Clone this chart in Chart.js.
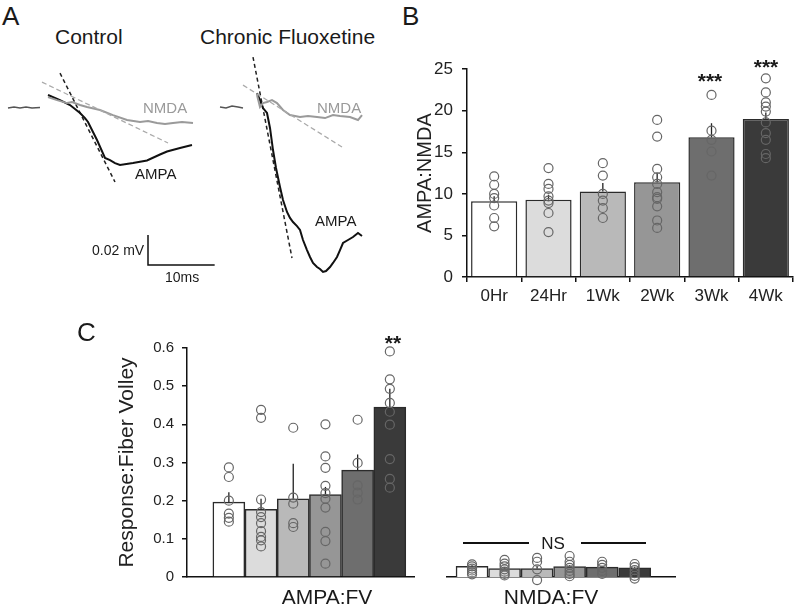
<!DOCTYPE html>
<html>
<head>
<meta charset="utf-8">
<script src="https://cdn.jsdelivr.net/npm/chart.js@4.4.1/dist/chart.umd.min.js"></script>
<style>
  html, body { margin: 0; padding: 0; background: #fff; }
  body { width: 800px; height: 611px; position: relative; overflow: hidden;
         font-family: "Liberation Sans", Arial, sans-serif; color: #1a1a1a; }
  .box { position: absolute; }
  .t { position: absolute; line-height: 1; white-space: nowrap; }
  .c { text-align: center; }
  .rule { position: absolute; height: 1.5px; background: #111; }
</style>
</head>
<body>
<div class="box" style="left:0;top:50px;width:230px;height:250px"><canvas id="ctrlCanvas"></canvas></div>
<div class="box" style="left:200px;top:50px;width:200px;height:250px"><canvas id="fluoxCanvas"></canvas></div>
<div class="box" style="left:400px;top:50px;width:400px;height:260px"><canvas id="ratioCanvas"></canvas></div>
<div class="box" style="left:100px;top:330px;width:320px;height:281px"><canvas id="ampaFvCanvas"></canvas></div>
<div class="box" style="left:430px;top:330px;width:260px;height:281px"><canvas id="nmdaFvCanvas"></canvas></div>

<div class="t" style="left:2px;top:3px;font-size:26px">A</div>
<div class="t" style="left:55px;top:26px;font-size:21px">Control</div>
<div class="t" style="left:200px;top:26px;font-size:21px">Chronic Fluoxetine</div>
<div class="t" style="left:143px;top:100px;font-size:15px;color:#9a9a9a">NMDA</div>
<div class="t" style="left:135px;top:166px;font-size:15px">AMPA</div>
<div class="t" style="left:317px;top:100px;font-size:15px;color:#9a9a9a">NMDA</div>
<div class="t" style="left:315px;top:213px;font-size:15px">AMPA</div>
<div class="t" style="left:92px;top:243px;font-size:14px">0.02 mV</div>
<div class="t" style="left:165px;top:270px;font-size:14px">10ms</div>

<div class="t" style="left:402px;top:3px;font-size:26px">B</div>
<div class="t c" style="left:680px;width:60px;top:70px;font-size:21px;font-weight:bold">***</div>
<div class="t c" style="left:736px;width:60px;top:56px;font-size:21px;font-weight:bold">***</div>

<div class="t" style="left:77px;top:319px;font-size:26px">C</div>
<div class="t c" style="left:363px;width:60px;top:332px;font-size:21px;font-weight:bold">**</div>
<div class="t c" style="left:247px;width:160px;top:586px;font-size:21px">AMPA:FV</div>
<div class="t c" style="left:471px;width:160px;top:586px;font-size:21px">NMDA:FV</div>
<div class="t c" style="left:523px;width:60px;top:535px;font-size:17px">NS</div>
<div class="rule" style="left:463px;top:542px;width:66px"></div>
<div class="rule" style="left:581px;top:542px;width:65px"></div>

<script>
// ---- panel A traces: time in ms, response in mV
const ctrlBaseT = [1.2, 2.1, 3.0, 3.9, 4.8, 6.0];
const ctrlBaseV = [0, 0.0007, 0, 0.0007, 0, 0.0003];
const ctrlAmpaT = [7.2, 9.0, 10.5, 12.0, 12.75, 13.2, 14.55, 15.75, 16.5, 17.25, 18.0, 19.95, 22.05, 24.0, 25.05, 27.0, 28.8];
const ctrlAmpaV = [0.0087, 0.0053, 0.002, -0.0033, -0.0067, -0.0093, -0.0213, -0.0333, -0.0347, -0.0367, -0.038, -0.0367, -0.035, -0.031, -0.029, -0.0267, -0.0247];
const ctrlNmdaT = [7.2, 8.55, 10.05, 10.8, 12.0, 13.05, 15.0, 16.95, 19.05, 21.0, 22.2, 23.55, 24.75, 25.95, 27.3, 28.95];
const ctrlNmdaV = [0.0073, 0.0053, 0.0033, 0.004, 0.002, 0.0007, -0.0013, -0.0047, -0.008, -0.0093, -0.0087, -0.01, -0.0107, -0.01, -0.0093, -0.01];
const ctrlAmpaSlopeT = [9.0, 17.25];
const ctrlAmpaSlopeV = [0.0233, -0.0493];
const ctrlNmdaSlopeT = [6.3, 25.2];
const ctrlNmdaSlopeV = [0.0173, -0.0233];
const scaleBarT = [22.2, 22.2, 32.2];   // 10 ms
const scaleBarV = [-0.0847, -0.1047, -0.1047]; // 0.02 mV

const fluoxBaseT = [3.0, 3.9, 4.8, 5.7, 6.45];
const fluoxBaseV = [0.0007, 0, 0.0013, 0.0007, 0];
const fluoxAmpaT = [8.55, 9.0, 9.45, 10.05, 10.5, 10.95, 11.4, 12.0, 12.45, 13.05, 13.5, 13.95, 14.55, 15.0, 15.45, 16.05, 16.5, 16.95, 17.55, 18.0, 18.45, 18.9, 19.5, 19.95, 20.55, 21.0, 21.45, 22.2, 22.95, 23.7, 24.3];
const fluoxAmpaV = [0.01, 0.0053, 0, -0.0033, -0.0133, -0.028, -0.04, -0.0527, -0.0613, -0.0693, -0.0733, -0.076, -0.0787, -0.0813, -0.088, -0.0947, -0.0993, -0.1033, -0.106, -0.1073, -0.1093, -0.1087, -0.106, -0.1033, -0.0993, -0.0947, -0.09, -0.088, -0.086, -0.0833, -0.0853];
const fluoxNmdaT = [8.55, 9.0, 9.45, 10.05, 10.8, 11.55, 12.45, 13.5, 15.0, 16.2, 17.55, 18.75, 19.95, 21.0, 22.5, 23.7, 24.3];
const fluoxNmdaV = [0.0087, 0.0007, 0.0033, 0.004, 0.0053, 0.0033, -0.0013, -0.0047, -0.006, -0.0053, -0.006, -0.0067, -0.0047, -0.0053, -0.006, -0.008, -0.0047];
const fluoxAmpaSlopeT = [7.95, 13.8];
const fluoxAmpaSlopeV = [0.034, -0.1];
const fluoxNmdaSlopeT = [6.45, 21.3];
const fluoxNmdaSlopeV = [0.0153, -0.026];

// ---- panel B: AMPA:NMDA ratio
const bLabels = ['0Hr', '24Hr', '1Wk', '2Wk', '3Wk', '4Wk'];
const bMeans = [9.1, 9.3, 10.3, 11.4, 16.8, 19.0];
const bSem = [0.6, 0.6, 1.0, 1.1, 1.7, 0.8];
const b0Hr = [12.1, 11.1, 10.0, 9.5, 8.6, 7.1, 6.1];
const b24Hr = [13.1, 11.2, 10.6, 9.7, 9.2, 8.9, 7.7, 5.4];
const b1Wk = [13.7, 12.2, 10.0, 9.2, 8.3, 7.1];
const b2Wk = [18.9, 16.9, 13.0, 12.0, 11.2, 10.2, 9.6, 9.4, 8.5, 6.8, 5.9];
const b3Wk = [21.9, 17.6, 16.5, 15.1, 12.2];
const b4Wk = [23.9, 22.2, 21.0, 20.5, 19.9, 18.6, 17.3, 16.5, 14.8, 14.3];

// ---- panel C: response / fiber volley
const ampaFvMeans = [0.196, 0.177, 0.205, 0.216, 0.28, 0.445];
const ampaFvSem = [0.026, 0.028, 0.092, 0.02, 0.041, 0.048];
const ampaFv0Hr = [0.287, 0.262, 0.2, 0.166, 0.155, 0.145];
const ampaFv24Hr = [0.438, 0.417, 0.203, 0.17, 0.157, 0.141, 0.12, 0.105, 0.096, 0.08];
const ampaFv1Wk = [0.391, 0.208, 0.192, 0.141, 0.131];
const ampaFv2Wk = [0.4, 0.316, 0.286, 0.239, 0.22, 0.205, 0.182, 0.118, 0.094, 0.035];
const ampaFv3Wk = [0.412, 0.299, 0.24, 0.221, 0.203];
const ampaFv4Wk = [0.591, 0.518, 0.493, 0.456, 0.433, 0.399, 0.309, 0.257, 0.234];

const nmdaFvMeans = [0.028, 0.022, 0.022, 0.027, 0.026, 0.024];
const nmdaFvSem = [0.003, 0.004, 0.006, 0.004, 0.003, 0.003];
const nmdaFv0Hr = [0.033, 0.028, 0.022, 0.017, 0.012, 0.007];
const nmdaFv24Hr = [0.045, 0.035, 0.028, 0.02, 0.014, 0.008, 0.004];
const nmdaFv1Wk = [0.05, 0.04, 0.02, -0.008];
const nmdaFv2Wk = [0.055, 0.04, 0.032, 0.024, 0.016, 0.008, 0.002];
const nmdaFv3Wk = [0.04, 0.032, 0.024, 0.016, 0.008];
const nmdaFv4Wk = [0.034, 0.026, 0.018, 0.01, 0.003, -0.004];

const barFills = ['#ffffff', '#dcdcdc', '#b9b9b9', '#969696', '#6e6e6e', '#3a3a3a'];
const ink = '#111';

Chart.defaults.font.family = '"Liberation Sans", Arial, sans-serif';
Chart.defaults.color = '#222';

const pts = (t, v) => t.map((x, i) => ({ x, y: v[i] }));

// upward SEM whisker on every bar of dataset 0
const errorBars = {
    id: 'errorBars',
    afterDatasetDraw(chart, args) {
        if (args.index !== 0) return;
        const ds = chart.data.datasets[0];
        const y = chart.scales.y;
        const ctx = chart.ctx;
        ctx.save();
        ctx.strokeStyle = '#222';
        ctx.lineWidth = 1.3;
        args.meta.data.forEach((bar, i) => {
            const d = ds.data[i];
            const m = typeof d === 'object' ? d.y : d;
            ctx.beginPath();
            ctx.moveTo(bar.x, bar.y);
            ctx.lineTo(bar.x, y.getPixelForValue(m + ds.sem[i]));
            ctx.stroke();
        });
        ctx.restore();
    }
};

function trace(t, v, color, width, dash) {
    return { data: pts(t, v), borderColor: color, borderWidth: width, borderDash: dash || [], fill: false, pointRadius: 0, tension: 0 };
}

function traceChart(id, xMax, sets) {
    new Chart(document.getElementById(id), {
        type: 'line',
        data: { datasets: sets },
        options: {
            responsive: true,
            maintainAspectRatio: false,
            animation: false,
            events: [],
            layout: { padding: 0 },
            plugins: { legend: { display: false }, tooltip: { enabled: false } },
            scales: {
                x: { type: 'linear', display: false, min: 0, max: xMax },
                y: { type: 'linear', display: false, min: -0.128, max: 0.0387 }
            }
        }
    });
}

traceChart('ctrlCanvas', 34.5, [
    trace(ctrlBaseT, ctrlBaseV, '#555', 1.5),
    trace(ctrlNmdaSlopeT, ctrlNmdaSlopeV, '#aaa', 1.3, [5, 3]),
    trace(ctrlNmdaT, ctrlNmdaV, '#9a9a9a', 2),
    trace(ctrlAmpaT, ctrlAmpaV, '#111', 2),
    trace(ctrlAmpaSlopeT, ctrlAmpaSlopeV, '#222', 1.5, [4, 3]),
    trace(scaleBarT, scaleBarV, '#111', 1.5)
]);

traceChart('fluoxCanvas', 30, [
    trace(fluoxBaseT, fluoxBaseV, '#555', 1.5),
    trace(fluoxNmdaSlopeT, fluoxNmdaSlopeV, '#aaa', 1.3, [5, 3]),
    trace(fluoxNmdaT, fluoxNmdaV, '#9a9a9a', 2),
    trace(fluoxAmpaT, fluoxAmpaV, '#111', 2),
    trace(fluoxAmpaSlopeT, fluoxAmpaSlopeV, '#222', 1.5, [4, 3])
]);

const dots = { type: 'scatter', pointRadius: 4.5, pointBorderWidth: 1.2, pointBorderColor: '#666', pointBackgroundColor: 'rgba(0,0,0,0)', order: 1, clip: false };
const tickMarks = { display: true, drawOnChartArea: false, drawTicks: true, tickLength: 5, color: ink, lineWidth: 1.5 };
const axisLine = { display: true, color: ink, width: 1.5 };
const common = {
    responsive: true,
    maintainAspectRatio: false,
    animation: false,
    events: [],
    plugins: { legend: { display: false }, tooltip: { enabled: false } }
};

// panel B
const bPoints = [b0Hr, b24Hr, b1Wk, b2Wk, b3Wk, b4Wk];
new Chart(document.getElementById('ratioCanvas'), {
    type: 'bar',
    data: {
        labels: bLabels,
        datasets: [
            { type: 'bar', data: bMeans, sem: bSem, backgroundColor: barFills, borderColor: '#2b2b2b', borderWidth: 1.5, barPercentage: 0.85, categoryPercentage: 1, order: 2 },
            Object.assign({ data: bPoints.flatMap((arr, i) => arr.map(v => ({ x: bLabels[i], y: v }))) }, dots)
        ]
    },
    plugins: [errorBars],
    options: Object.assign({}, common, {
        layout: { padding: { top: 13, right: 7, left: 0, bottom: 0 } },
        scales: {
            x: {
                type: 'category', offset: true,
                grid: Object.assign({ offset: true }, tickMarks),
                border: axisLine,
                ticks: { font: { size: 17 }, color: '#222', padding: 4 },
                afterFit: s => { s.height = 33; }
            },
            y: {
                min: 0, max: 25,
                ticks: { stepSize: 5, font: { size: 17 }, color: '#222', padding: 9 },
                grid: tickMarks,
                border: axisLine,
                title: { display: true, text: 'AMPA:NMDA', font: { size: 20 }, color: '#222', padding: { top: 13, bottom: 0 } },
                afterFit: s => { s.width = 67; }
            }
        }
    })
});

// panel C, one chart per group
function fvChart(id, means, sem, groups, xMin, xMax, padding, yAxis) {
    new Chart(document.getElementById(id), {
        type: 'bar',
        data: {
            datasets: [
                { type: 'bar', data: means.map((v, i) => ({ x: i, y: v })), sem: sem, backgroundColor: barFills, borderColor: '#2b2b2b', borderWidth: 1.5, barThickness: 32, order: 2 },
                Object.assign({ data: groups.flatMap((arr, i) => arr.map(v => ({ x: i, y: v }))) }, dots)
            ]
        },
        plugins: [errorBars],
        options: Object.assign({}, common, {
            layout: { padding: padding },
            scales: {
                x: {
                    type: 'linear', min: xMin, max: xMax, offset: false,
                    grid: { display: false, offset: false },
                    ticks: { display: false },
                    border: axisLine,
                    afterFit: s => { s.height = 34; }
                },
                y: yAxis
            }
        })
    });
}

fvChart('ampaFvCanvas', ampaFvMeans, ampaFvSem,
    [ampaFv0Hr, ampaFv24Hr, ampaFv1Wk, ampaFv2Wk, ampaFv3Wk, ampaFv4Wk],
    -1.3, 5.76, { top: 18, right: 5, left: 0, bottom: 0 },
    {
        min: 0, max: 0.6,
        ticks: { stepSize: 0.1, font: { size: 15 }, color: '#222', padding: 8 },
        grid: tickMarks,
        border: axisLine,
        title: { display: true, text: 'Response:Fiber Volley', font: { size: 21 }, color: '#222', padding: { top: 15, bottom: 0 } },
        afterFit: s => { s.width = 87; }
    });

fvChart('nmdaFvCanvas', nmdaFvMeans, nmdaFvSem,
    [nmdaFv0Hr, nmdaFv24Hr, nmdaFv1Wk, nmdaFv2Wk, nmdaFv3Wk, nmdaFv4Wk],
    -0.77, 6.24, { top: 18, right: 15, left: 17, bottom: 0 },
    { display: false, min: 0, max: 0.6 });
</script>
</body>
</html>
